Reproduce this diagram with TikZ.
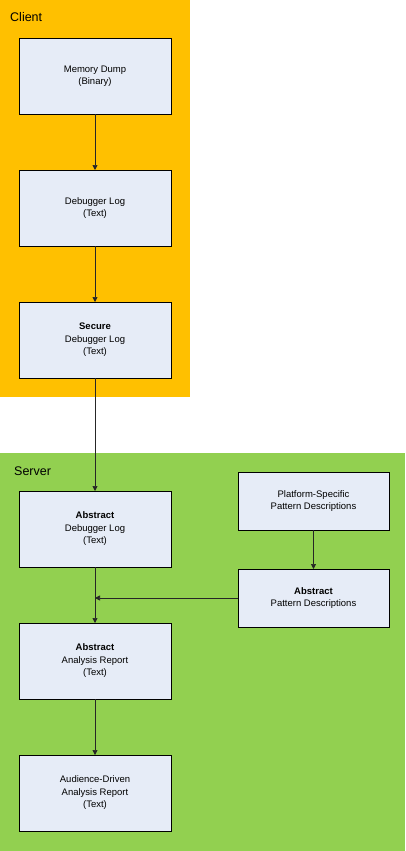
\documentclass[tikz,border=0pt]{standalone}
\usepackage{fontspec}
\setmainfont{Liberation Sans}
\usetikzlibrary{positioning,arrows.meta}
\definecolor{clientbg}{HTML}{FFC000}
\definecolor{serverbg}{HTML}{92D050}
\definecolor{boxfill}{HTML}{E6ECF7}
\tikzset{logbox/.style={draw=black,fill=boxfill,line width=0.8pt,minimum width=152pt,minimum height=76pt,
		align=center,font=\fontsize{9.5}{12.5}\selectfont,inner sep=2pt,outer sep=0pt},
	 patbox/.style={logbox,minimum width=151pt,minimum height=58pt},
	 flow/.style={-{Triangle[length=5pt,width=5pt]},line width=0.7pt,draw=black!85},
	 zone/.style={anchor=west,inner sep=0pt,font=\fontsize{12.5}{14}\selectfont},
	 node distance = 56pt
	 }

\begin{document}
\begin{tikzpicture}[x=1pt,y=1pt]
	\useasboundingbox (0,0) rectangle (405,-851);
	% zones
	\fill[clientbg] (0,0) rectangle (190,-397);
	\fill[serverbg] (0,-453) rectangle (405,-851);
	\node[zone] (client) at (10,-17) {Client};
	\node[zone] (server) at (14,-471) {Server};
	% client side
	\node[logbox] (dump) at (95,-76) {Memory Dump\\(Binary)};
	\node[logbox] (log) [below=of dump] {Debugger Log\\(Text)};
	\node[logbox] (slog) [below=of log] {\textbf{Secure}\\Debugger Log\\(Text)};
	% server side
	\node[logbox] (alog) [below=113pt of slog] {\textbf{Abstract}\\Debugger Log\\(Text)};
	\node[logbox] (arep) [below=of alog] {\textbf{Abstract}\\Analysis Report\\(Text)};
	\node[logbox] (drep) [below=of arep] {Audience-Driven\\Analysis Report\\(Text)};
	\node[patbox] (ppat) at (313.5,-501) {Platform-Specific\\Pattern Descriptions};
	\node[patbox] (apat) [below=39pt of ppat] {\textbf{Abstract}\\Pattern Descriptions};
	\coordinate (join) at (alog.south |- apat.west);
	\draw[flow] (dump) to (log);
	\draw[flow] (log) to (slog);
	\draw[flow] (slog) to (alog);
	\draw[flow] (alog) to (arep);
	\draw[flow] (arep) to (drep);
	\draw[flow] (ppat) to (apat);
	\draw[flow] (apat.west) to (join);
\end{tikzpicture}
\end{document}
